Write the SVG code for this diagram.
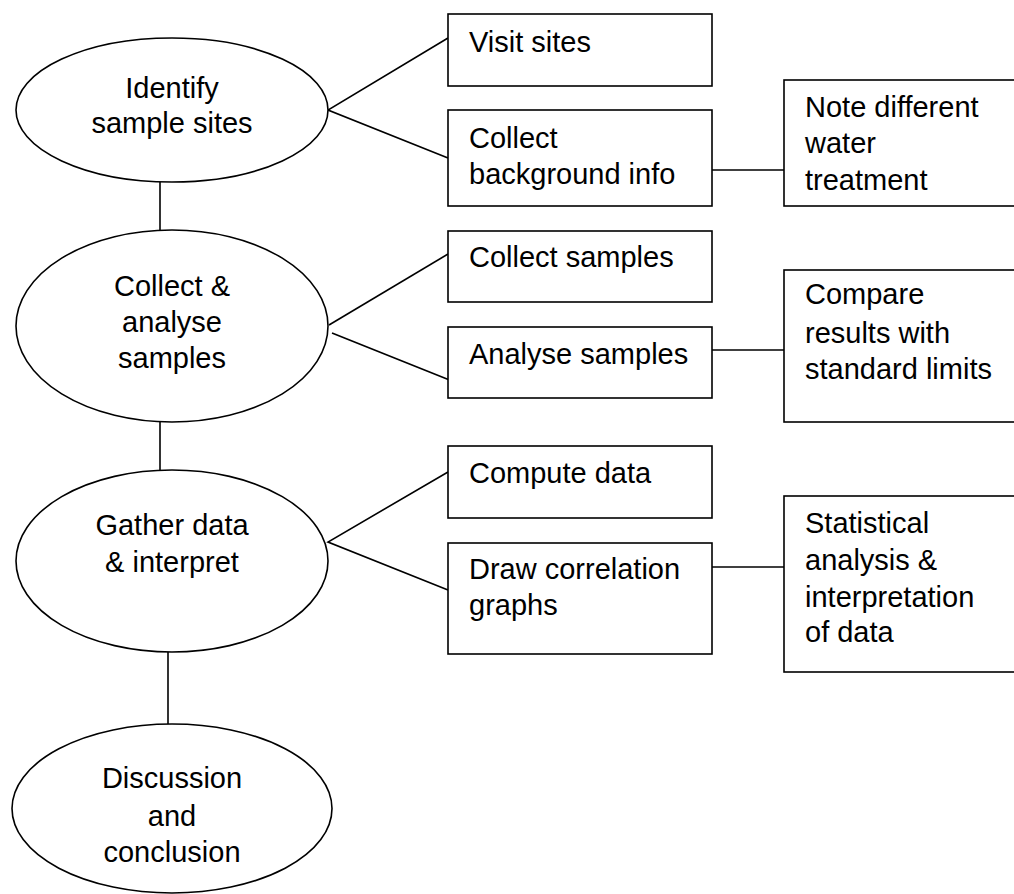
<svg xmlns="http://www.w3.org/2000/svg" width="1014" height="894" viewBox="0 0 1014 894">
<style>
.n{fill:#fff;stroke:#000;stroke-width:1.6}
.c{fill:none;stroke:#000;stroke-width:1.6}
text{font-family:"Liberation Sans",Arial,sans-serif;font-size:29px;fill:#000}
.m{text-anchor:middle}
</style>
<rect width="1014" height="894" fill="#fff"/>
<g id="connectors">
<line class="c" x1="160" y1="182" x2="160" y2="230"/>
<line class="c" x1="160" y1="422" x2="160" y2="470"/>
<line class="c" x1="168" y1="652" x2="168" y2="724"/>
<polyline class="c" points="448,38 328,110 448,158"/>
<polyline class="c" points="448,254 329,325"/>
<polyline class="c" points="332,333 452,381"/>
<polyline class="c" points="448,472 328,542 448,590"/>
<line class="c" x1="712" y1="170" x2="784" y2="170"/>
<line class="c" x1="712" y1="350" x2="784" y2="350"/>
<line class="c" x1="712" y1="567" x2="784" y2="567"/>
</g>
<g id="identify">
<ellipse class="n" cx="172" cy="110" rx="156" ry="72"/>
<text class="m" x="172" y="98">Identify</text>
<text class="m" x="172" y="133">sample sites</text>
</g>
<g id="collect-analyse">
<ellipse class="n" cx="172" cy="326" rx="156" ry="96"/>
<text class="m" x="172" y="296">Collect &amp;</text>
<text class="m" x="172" y="332">analyse</text>
<text class="m" x="172" y="368">samples</text>
</g>
<g id="gather">
<ellipse class="n" cx="172" cy="561" rx="156" ry="91"/>
<text class="m" x="172" y="535">Gather data</text>
<text class="m" x="172" y="572">&amp; interpret</text>
</g>
<g id="discussion">
<ellipse class="n" cx="172" cy="808.5" rx="160" ry="84.5"/>
<text class="m" x="172" y="788">Discussion</text>
<text class="m" x="172" y="826">and</text>
<text class="m" x="172" y="862">conclusion</text>
</g>
<g id="visit">
<rect class="n" x="448" y="14" width="264" height="72"/>
<text x="469" y="52">Visit sites</text>
</g>
<g id="background">
<rect class="n" x="448" y="110" width="264" height="96"/>
<text x="469" y="148">Collect</text>
<text x="469" y="184">background info</text>
</g>
<g id="collect-samples">
<rect class="n" x="448" y="231" width="264" height="71"/>
<text x="469" y="267">Collect samples</text>
</g>
<g id="analyse-samples">
<rect class="n" x="448" y="327" width="264" height="71"/>
<text x="469" y="364">Analyse samples</text>
</g>
<g id="compute">
<rect class="n" x="448" y="446" width="264" height="72"/>
<text x="469" y="483">Compute data</text>
</g>
<g id="draw-graphs">
<rect class="n" x="448" y="543" width="264" height="111"/>
<text x="469" y="579">Draw correlation</text>
<text x="469" y="615">graphs</text>
</g>
<g id="note">
<rect class="n" x="784" y="80" width="240" height="126"/>
<text x="805" y="117">Note different</text>
<text x="805" y="153">water</text>
<text x="805" y="190">treatment</text>
</g>
<g id="compare">
<rect class="n" x="784" y="270" width="240" height="152"/>
<text x="805" y="304">Compare</text>
<text x="805" y="343">results with</text>
<text x="805" y="379">standard limits</text>
</g>
<g id="statistical">
<rect class="n" x="784" y="496" width="240" height="176"/>
<text x="805" y="533">Statistical</text>
<text x="805" y="570">analysis &amp;</text>
<text x="805" y="607">interpretation</text>
<text x="805" y="642">of data</text>
</g>
</svg>
